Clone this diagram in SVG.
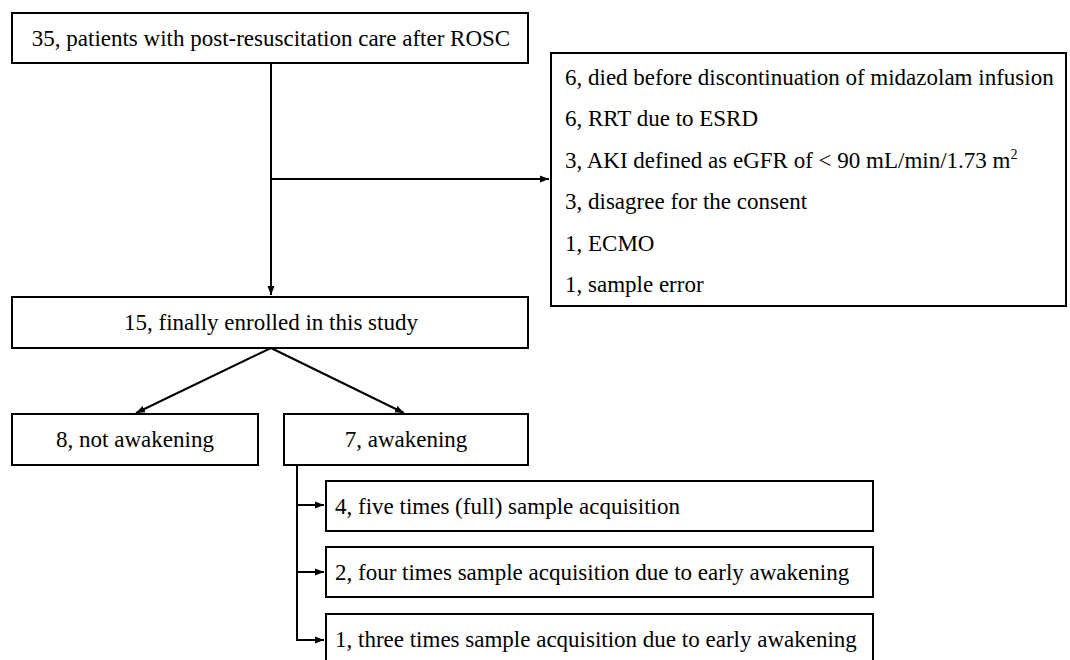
<svg xmlns="http://www.w3.org/2000/svg" width="1070" height="660" viewBox="0 0 1070 660">
<defs>
<style>
.box{fill:#fff;stroke:#000;stroke-width:2}
.t{font-family:'Liberation Serif','Times New Roman',serif;font-size:23px;fill:#000}
.c{text-anchor:middle}
.ln{fill:none;stroke:#000;stroke-width:2}
</style>
<marker id="ah" markerWidth="10" markerHeight="8" refX="9" refY="4" orient="auto" markerUnits="userSpaceOnUse">
<path d="M0,0.5 L9,4 L0,7.5 Z" fill="#000"/>
</marker>
</defs>
<rect width="1070" height="660" fill="#fff"/>
<g id="connectors">
<path class="ln" d="M271,63 V295" marker-end="url(#ah)"/>
<path class="ln" d="M271,179 H549" marker-end="url(#ah)"/>
<path class="ln" d="M271,348 L136,413" marker-end="url(#ah)"/>
<path class="ln" d="M271,348 L404,413" marker-end="url(#ah)"/>
<path class="ln" d="M297,465 V640 H324" marker-end="url(#ah)"/>
<path class="ln" d="M297,505 H324" marker-end="url(#ah)"/>
<path class="ln" d="M297,572 H324" marker-end="url(#ah)"/>
</g>
<g id="n-start">
<rect class="box" x="12" y="13" width="516" height="50"/>
<text class="t c" x="271" y="46">35, patients with post-resuscitation care after ROSC</text>
</g>
<g id="n-excluded">
<rect class="box" x="551" y="53" width="515" height="253"/>
<text class="t" x="565" y="85">6, died before discontinuation of midazolam infusion</text>
<text class="t" x="565" y="126">6, RRT due to ESRD</text>
<text class="t" x="565" y="168">3, AKI defined as eGFR of &lt; 90 mL/min/1.73 m<tspan dy="-9" style="font-size:14px">2</tspan></text>
<text class="t" x="565" y="209">3, disagree for the consent</text>
<text class="t" x="565" y="251">1, ECMO</text>
<text class="t" x="565" y="292">1, sample error</text>
</g>
<g id="n-enrolled">
<rect class="box" x="12" y="297" width="516" height="51"/>
<text class="t c" x="271" y="330">15, finally enrolled in this study</text>
</g>
<g id="n-not-awake">
<rect class="box" x="12" y="414" width="246" height="51"/>
<text class="t c" x="135" y="447">8, not awakening</text>
</g>
<g id="n-awake">
<rect class="box" x="284" y="414" width="244" height="51"/>
<text class="t c" x="406" y="447">7, awakening</text>
</g>
<g id="n-five">
<rect class="box" x="326" y="481" width="547" height="50"/>
<text class="t" x="335" y="514">4, five times (full) sample acquisition</text>
</g>
<g id="n-four">
<rect class="box" x="326" y="547" width="547" height="50"/>
<text class="t" x="335" y="580">2, four times sample acquisition due to early awakening</text>
</g>
<g id="n-three">
<rect class="box" x="326" y="614" width="547" height="52"/>
<text class="t" x="335" y="647">1, three times sample acquisition due to early awakening</text>
</g>
</svg>
